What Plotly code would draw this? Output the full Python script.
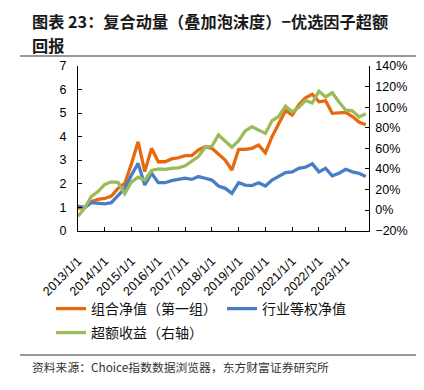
import plotly.graph_objects as go
import pandas as pd

# ---------------- data ----------------
dates = pd.date_range("2013-01-01", periods=44, freq="QS")

portfolio_nav = [0.95, 1.00, 1.23, 1.33, 1.37, 1.47, 1.80, 2.01, 2.86, 3.78,
                 2.51, 3.50, 2.93, 2.93, 3.05, 3.10, 3.19, 3.19, 3.43, 3.57,
                 3.50, 3.25, 3.00, 2.58, 3.46, 3.46, 3.50, 3.64, 3.31, 4.00,
                 4.55, 5.10, 4.92, 5.35, 5.65, 5.80, 5.48, 5.52, 4.99, 5.00,
                 5.03, 4.85, 4.62, 4.50]

industry_nav = [1.05, 0.98, 1.19, 1.16, 1.14, 1.19, 1.52, 1.80, 2.37, 2.86,
                1.94, 2.44, 2.04, 2.04, 2.13, 2.18, 2.23, 2.18, 2.30, 2.23,
                2.15, 1.90, 1.80, 1.59, 2.04, 1.94, 1.92, 2.04, 1.90, 2.15,
                2.30, 2.47, 2.50, 2.65, 2.70, 2.84, 2.50, 2.65, 2.33, 2.44,
                2.61, 2.50, 2.44, 2.30]

excess_return = [-6, 2, 13, 18, 25, 27.5, 27, 16, 27.5, 32,
                 29, 38.5, 40, 39.5, 40.5, 41, 43, 47.5, 52, 61,
                 62, 73, 67, 61, 67.5, 77, 81, 78, 74.5, 87,
                 91, 101, 95.5, 100, 106.5, 104, 115.5, 110, 114, 105,
                 97, 96.5, 90.5, 93.5]

year_ticks = [f"{y}-01-01" for y in range(2013, 2024)]
year_labels = [f"{y}/1/1" for y in range(2013, 2024)]

series_names = ["组合净值（第一组）", "行业等权净值", "超额收益（右轴）"]

title_line1 = "图表 23：复合动量（叠加泡沫度）−优选因子超额"
title_line2 = "回报"
source_text = "资料来源：Choice指数数据浏览器，东方财富证券研究所"

# ---------------- layout geometry ----------------
# the page body has an 8px margin, so the figure is drawn 8px in from the window corner
OFF = 8
W, H = 424 - OFF, 390 - OFF


def fx(x):
    return (x - OFF) / W


def fy(y):
    return 1 - (y - OFF) / H


PLOT_L, PLOT_R, PLOT_T, PLOT_B = 78, 368.7, 66, 230.7

ORANGE = "#E8680C"
BLUE = "#4A7EC4"
GREEN = "#9BBB59"
NUM_FONT = "Liberation Sans, Arial, Noto Sans CJK SC"
CJK_FONT = "Noto Sans CJK SC, Liberation Sans"
TITLE_SIZE = 16.2

fig = go.Figure()
fig.add_trace(go.Scatter(x=dates, y=portfolio_nav, name=series_names[0], mode="lines",
                         line=dict(color=ORANGE, width=3.3), legend="legend"))
fig.add_trace(go.Scatter(x=dates, y=industry_nav, name=series_names[1], mode="lines",
                         line=dict(color=BLUE, width=3.3), legend="legend"))
fig.add_trace(go.Scatter(x=dates, y=excess_return, name=series_names[2], mode="lines",
                         line=dict(color=GREEN, width=3.3), yaxis="y2", legend="legend2"))

axis_common = dict(showline=True, linecolor="#000000", linewidth=1.3, ticks="inside",
                   ticklen=4, tickcolor="#000000", showgrid=False, zeroline=False,
                   tickfont=dict(family=NUM_FONT, size=12.5, color="#000000"))

legend_common = dict(orientation="h", xref="paper", yref="paper",
                     x=fx(51), xanchor="left", yanchor="middle",
                     entrywidthmode="pixels", entrywidth=126,
                     font=dict(family=CJK_FONT, size=14, color="#111111"),
                     itemwidth=30, bgcolor="rgba(0,0,0,0)", borderwidth=0)

fig.update_layout(
    width=W, height=H,
    margin=dict(l=0, r=0, t=0, b=0, pad=0, autoexpand=False),
    paper_bgcolor="white", plot_bgcolor="white",
    xaxis=dict(type="date", range=["2013-01-01", "2023-11-10"],
               domain=[fx(PLOT_L), fx(PLOT_R)],
               tickvals=year_ticks, ticktext=year_labels, tickangle=-45,
               ticklabelstandoff=17, **axis_common),
    yaxis=dict(range=[0, 7], dtick=1, domain=[fy(PLOT_B), fy(PLOT_T)],
               ticklabelstandoff=8, **axis_common),
    yaxis2=dict(range=[-20, 140], dtick=20, ticksuffix="%", overlaying="y", side="right",
                ticklabelstandoff=3, **axis_common),
    showlegend=True,
    legend=dict(y=fy(309), **legend_common),
    legend2=dict(y=fy(333), **legend_common),
    annotations=[
        dict(text=f"<b>{title_line1}</b>", xref="paper", yref="paper",
             x=fx(31), y=fy(8.3), xanchor="left", yanchor="top",
             showarrow=False, borderpad=0,
             font=dict(family=CJK_FONT, size=TITLE_SIZE, color="#1a1a1a")),
        dict(text=f"<b>{title_line2}</b>", xref="paper", yref="paper",
             x=fx(31), y=fy(32.3), xanchor="left", yanchor="top",
             showarrow=False, borderpad=0,
             font=dict(family=CJK_FONT, size=TITLE_SIZE, color="#1a1a1a")),
        dict(text=source_text, xref="paper", yref="paper",
             x=fx(30), y=fy(366), xanchor="left", yanchor="middle", showarrow=False,
             font=dict(family=CJK_FONT, size=11.8, color="#333333")),
    ],
    shapes=[
        dict(type="line", xref="paper", yref="paper", x0=fx(20), x1=fx(420),
             y0=fy(56), y1=fy(56), layer="above", line=dict(color="#333333", width=1.2)),
        dict(type="line", xref="paper", yref="paper", x0=fx(20), x1=fx(420),
             y0=fy(355), y1=fy(355), layer="above", line=dict(color="#333333", width=1.2)),
    ],
)

fig.write_html("out.html")
